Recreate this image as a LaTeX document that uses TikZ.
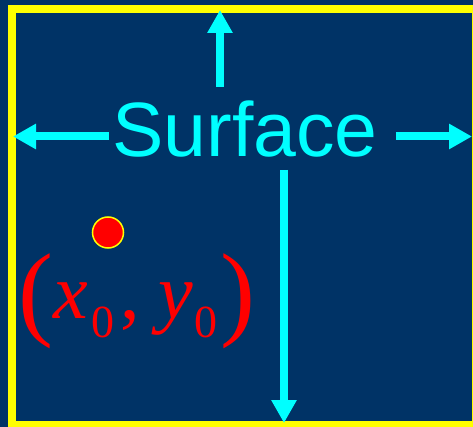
\documentclass[tikz,border=0pt]{standalone}
\usepackage{fontspec}
\setmainfont{Liberation Serif}
\newfontfamily\arialfont{Liberation Sans}
\usetikzlibrary{arrows.meta, positioning}
\definecolor{slideblue}{RGB}{0,51,102}
\definecolor{slidecyan}{RGB}{0,255,255}
\definecolor{slideyellow}{RGB}{255,255,0}
\definecolor{slidered}{RGB}{255,0,0}
\newcommand{\parensize}{\fontsize{105}{105}\selectfont\upshape}
\newcommand{\varsize}{\fontsize{78}{78}\selectfont\itshape}
\newcommand{\subsize}{\fontsize{46}{46}\selectfont\upshape}

\begin{document}
\begin{tikzpicture}[
  x=1pt, y=-1pt,
  frame/.style={draw=slideyellow, line width=8pt},
  flow/.style={-{Triangle[width=24pt,length=23pt]}, line width=8pt, slidecyan},
  surflabel/.style={font=\arialfont\fontsize{77}{77}\selectfont,
                    text=slidecyan, inner sep=0pt},
  dot/.style={circle, fill=slidered, draw=slideyellow, line width=1.5pt,
              minimum size=31pt, inner sep=0pt},
  pointlabel/.style={text=slidered, inner sep=0pt},
]

%% Slide background and frame
\useasboundingbox[fill=slideblue] (0,0) rectangle (473,427);
\clip (0,0) rectangle (473,427);
\draw[frame] (12,9) rectangle (476,425);

%% Surface label
\node[surflabel, anchor=base] (surf) at (245,157) {Surface};

%% Ends of the arrows, on the frame
\coordinate (upend)    at (220,10);
\coordinate (leftend)  at (13,136.5);
\coordinate (rightend) at (472,136.5);
\coordinate (downend)  at (284,423);

\draw[flow] ([yshift=14pt]surf.north -| upend) -- (upend);
\draw[flow] ([xshift=-3.5pt]surf.west |- leftend) -- (leftend);
\draw[flow] ([xshift=18pt]surf.east |- rightend) -- (rightend);
\draw[flow] ([yshift=-12pt]surf.south -| downend) -- (downend);

%% Point and its coordinates
\node[dot] (p0) at (108,232.5) {};
\node[pointlabel, anchor=base west] (p0label) at (18,318)
  {{\parensize\raisebox{-8pt}{(}}{\varsize x}\hspace{4pt}\raisebox{-19pt}{\subsize 0}{\varsize\hspace{6pt}\upshape,\hspace{18pt}\itshape y}\hspace{2pt}\raisebox{-19pt}{\subsize 0}\hspace{3pt}{\parensize\raisebox{-8pt}{)}}};

\end{tikzpicture}
\end{document}
